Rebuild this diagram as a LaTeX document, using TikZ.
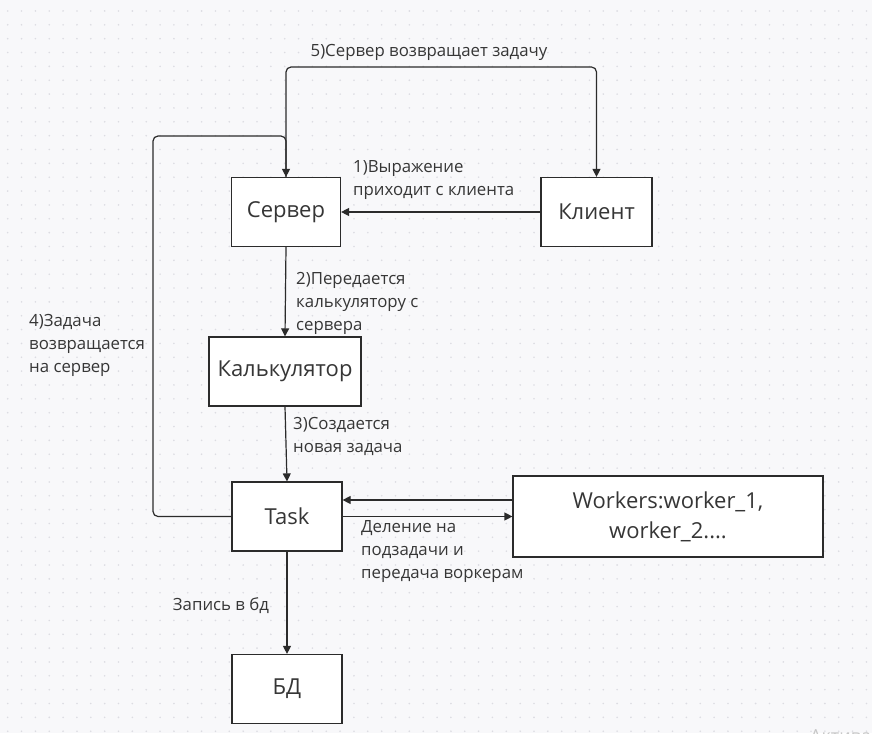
\documentclass[tikz,border=0pt]{standalone}
\usepackage{fontspec}
\setmainfont{Open Sans}
\usetikzlibrary{arrows.meta, calc, positioning}
\definecolor{bgcol}{HTML}{F8F8FA}
\definecolor{dotcol}{HTML}{DCDCE2}
\definecolor{inkcol}{HTML}{2B2B2B}
\definecolor{txtcol}{HTML}{363636}
\tikzset{
  box/.style = {draw=inkcol, line width=1.2pt, fill=white, inner sep=0pt,
    text=txtcol, font=\fontsize{22}{30}\selectfont, align=center},
  conn/.style = {draw=inkcol, line width=1.2pt, rounded corners=5pt,
    -{Triangle[length=8pt, width=8pt]}},
  lbl/.style = {text=txtcol, font=\fontsize{16.8}{23}\selectfont, align=left, inner sep=0pt}
}

\begin{document}
\begin{tikzpicture}[x=1pt, y=-1pt]
\fill[bgcol] (0,0) rectangle (872,733);
\useasboundingbox (0,0) rectangle (872,733);
\foreach \i in {0,...,62} {
  \foreach \j in {0,...,52} {
    \fill[dotcol] (7.7+13.85*\i, 11+13.85*\j) circle (0.9pt);
  }
}
\node[box, minimum width=109pt, minimum height=69pt] (server) at (286,212) {Сервер};
\node[box, minimum width=111pt, minimum height=69pt] (client) at (596.5,212) {Клиент};
\node[box, minimum width=152pt, minimum height=69pt] (calc) at (285,371.5) {Калькулятор};
\node[box, minimum width=110pt, minimum height=69pt] (task) at (287,516.5) {Task};
\node[box, minimum width=310pt, minimum height=81pt] (workers) at (668,516.5) {Workers:worker\_1,\\worker\_2....};
\node[box, minimum width=110pt, minimum height=69pt] (db) at (287,689) {БД};
\coordinate (loopL) at (153,136);
\coordinate (loopT) at (440,67);
\draw[conn] (client.west) -- (server.east);
\draw[conn] (server.south) -- (calc.north);
\draw[conn] (calc.south) -- (task.north);
\draw[conn] (task.east) -- (workers.west);
\draw[conn] ([yshift=16.5pt]workers.west) -- ([yshift=16.5pt]task.east);
\draw[conn] (task.west) -| (loopL) -| (server.north);
\draw[conn] (server.north) |- (loopT) -| (client.north);
\draw[conn] (task.south) -- (db.north);
\node[lbl] (l5) at (429,52) {5)Сервер возвращает задачу};
\node[lbl, anchor=west] (l1) at (353,180.5) {1)Выражение\\приходит с клиента};
\node[lbl, anchor=west] (l2) at (296,303) {2)Передается\\калькулятору с\\сервера};
\node[lbl, anchor=west] (l3) at (293,436.5) {3)Создается\\новая задача};
\node[lbl, anchor=west] (l4) at (29,345) {4)Задача\\возвращается\\на сервер};
\node[lbl, anchor=west] (ldiv) at (361,552) {Деление на\\подзадачи и\\передача воркерам};
\node[lbl] (ldb) at (221,606) {Запись в бд};
\node[text=black!22, font=\fontsize{18}{20}\selectfont, anchor=west, inner sep=0pt] (wm) at (810,737) {Активация Windows};
\end{tikzpicture}
\end{document}
